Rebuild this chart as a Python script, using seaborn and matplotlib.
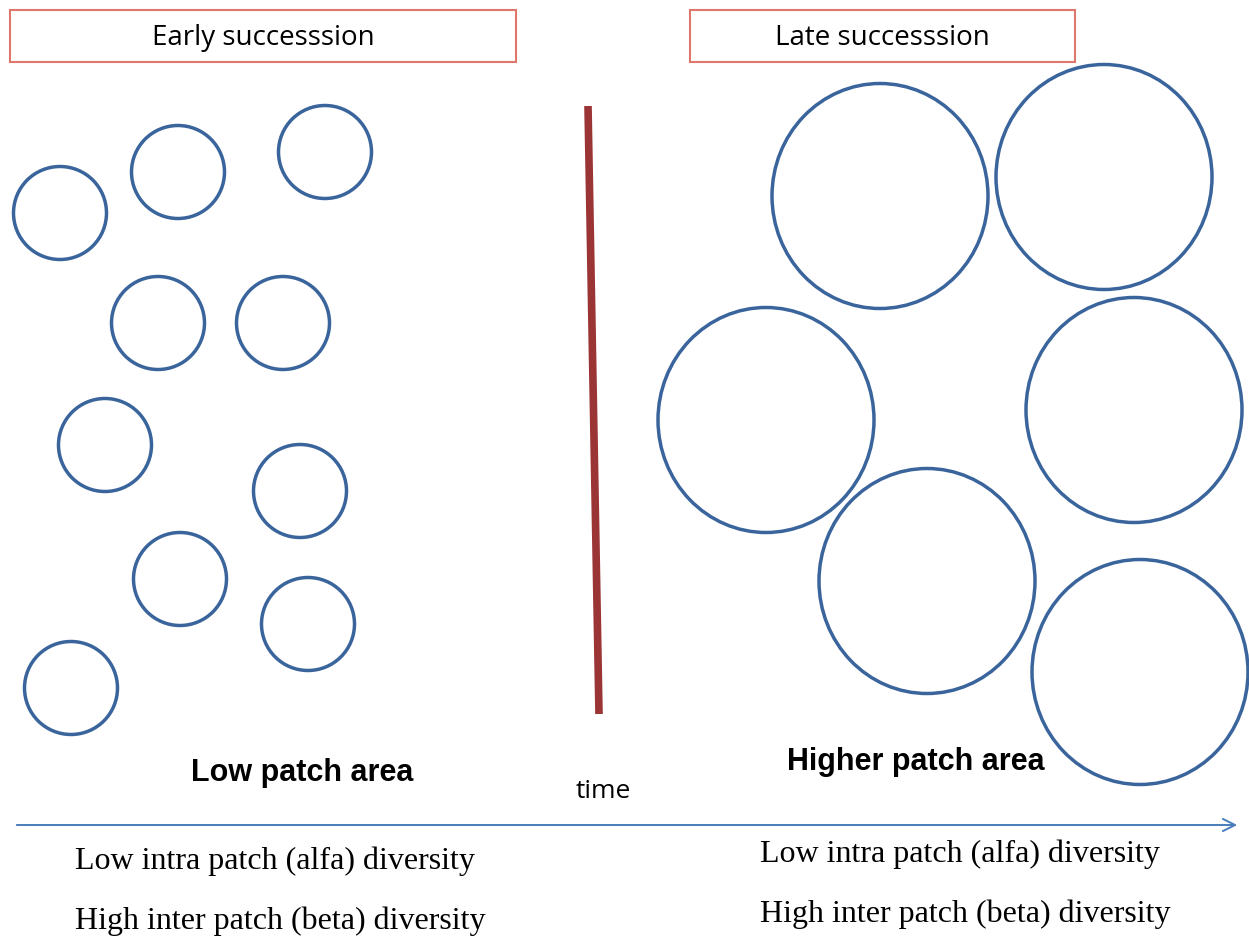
import matplotlib
matplotlib.use("Agg")
import matplotlib.pyplot as plt
import seaborn as sns
import pandas as pd
from matplotlib.patches import Circle, Ellipse, Rectangle

# ---- data (pixel space of the original slide) ----
small_x = [60, 178, 325, 158, 283, 105, 300, 180, 308, 71]
small_y = [213, 172, 152, 323, 323, 445, 491, 579, 624, 688]
small_r = 46.5

large_x = [880, 1104, 766, 1134, 927, 1140]
large_y = [196, 177, 420, 410, 581, 672]
large_w = 216
large_h = 225

divider_x = [588, 599]
divider_y = [106, 714]

box_labels = ["Early successsion", "Late successsion"]
box_left = [10, 690]
box_right = [516, 1075]

area_labels = ["Low patch area", "Higher patch area"]
area_x = [302, 916]
area_y = [773, 762]

diversity_left = ["Low intra patch (alfa) diversity", "High inter patch (beta) diversity"]
diversity_right = ["Low intra patch (alfa) diversity", "High inter patch (beta) diversity"]

sns.set_theme(style="white")

fig = plt.figure(figsize=(12.49, 9.39), dpi=100)
ax = fig.add_axes([0, 0, 1, 1])

blue = "#3a649c"

# red divider line
div = pd.DataFrame({"x": divider_x, "y": divider_y})
sns.lineplot(data=div, x="x", y="y", ax=ax, color="#9b3535", linewidth=5.5,
             sort=False, estimator=None, solid_capstyle="butt")
ax.set_xlim(0, 1249)
ax.set_ylim(939, 0)
ax.axis("off")

# patches
for x, y in zip(small_x, small_y):
    ax.add_patch(Circle((x, y), small_r, fill=False, edgecolor=blue, linewidth=2.5))
for x, y in zip(large_x, large_y):
    ax.add_patch(Ellipse((x, y), large_w, large_h, fill=False, edgecolor=blue, linewidth=2.5))

# title boxes
for lab, l, r in zip(box_labels, box_left, box_right):
    ax.add_patch(Rectangle((l, 10), r - l, 52, fill=False, edgecolor="#e0776c", linewidth=1.5))
    ax.text((l + r) / 2, 38, lab, ha="center", va="center", fontsize=20,
            family="Open Sans", color="black")

# area labels
for lab, x, y in zip(area_labels, area_x, area_y):
    ax.text(x, y, lab, ha="center", va="center", fontsize=22, fontweight="bold",
            family="Liberation Sans", color="black")

ax.text(603, 792, "time", ha="center", va="center", fontsize=19,
        family="Open Sans", color="black")

# time arrow
ax.annotate("", xy=(1240, 825), xytext=(14, 825),
            arrowprops=dict(arrowstyle="->", color="#4a7ebb", linewidth=1.4,
                            mutation_scale=22))

# diversity text
for i, lab in enumerate(diversity_left):
    ax.text(75, 861 + i * 60, lab, ha="left", va="center", fontsize=23,
            family="Liberation Serif", color="black")
for i, lab in enumerate(diversity_right):
    ax.text(760, 854 + i * 60, lab, ha="left", va="center", fontsize=23,
            family="Liberation Serif", color="black")

fig.savefig("out.png", dpi=100)
